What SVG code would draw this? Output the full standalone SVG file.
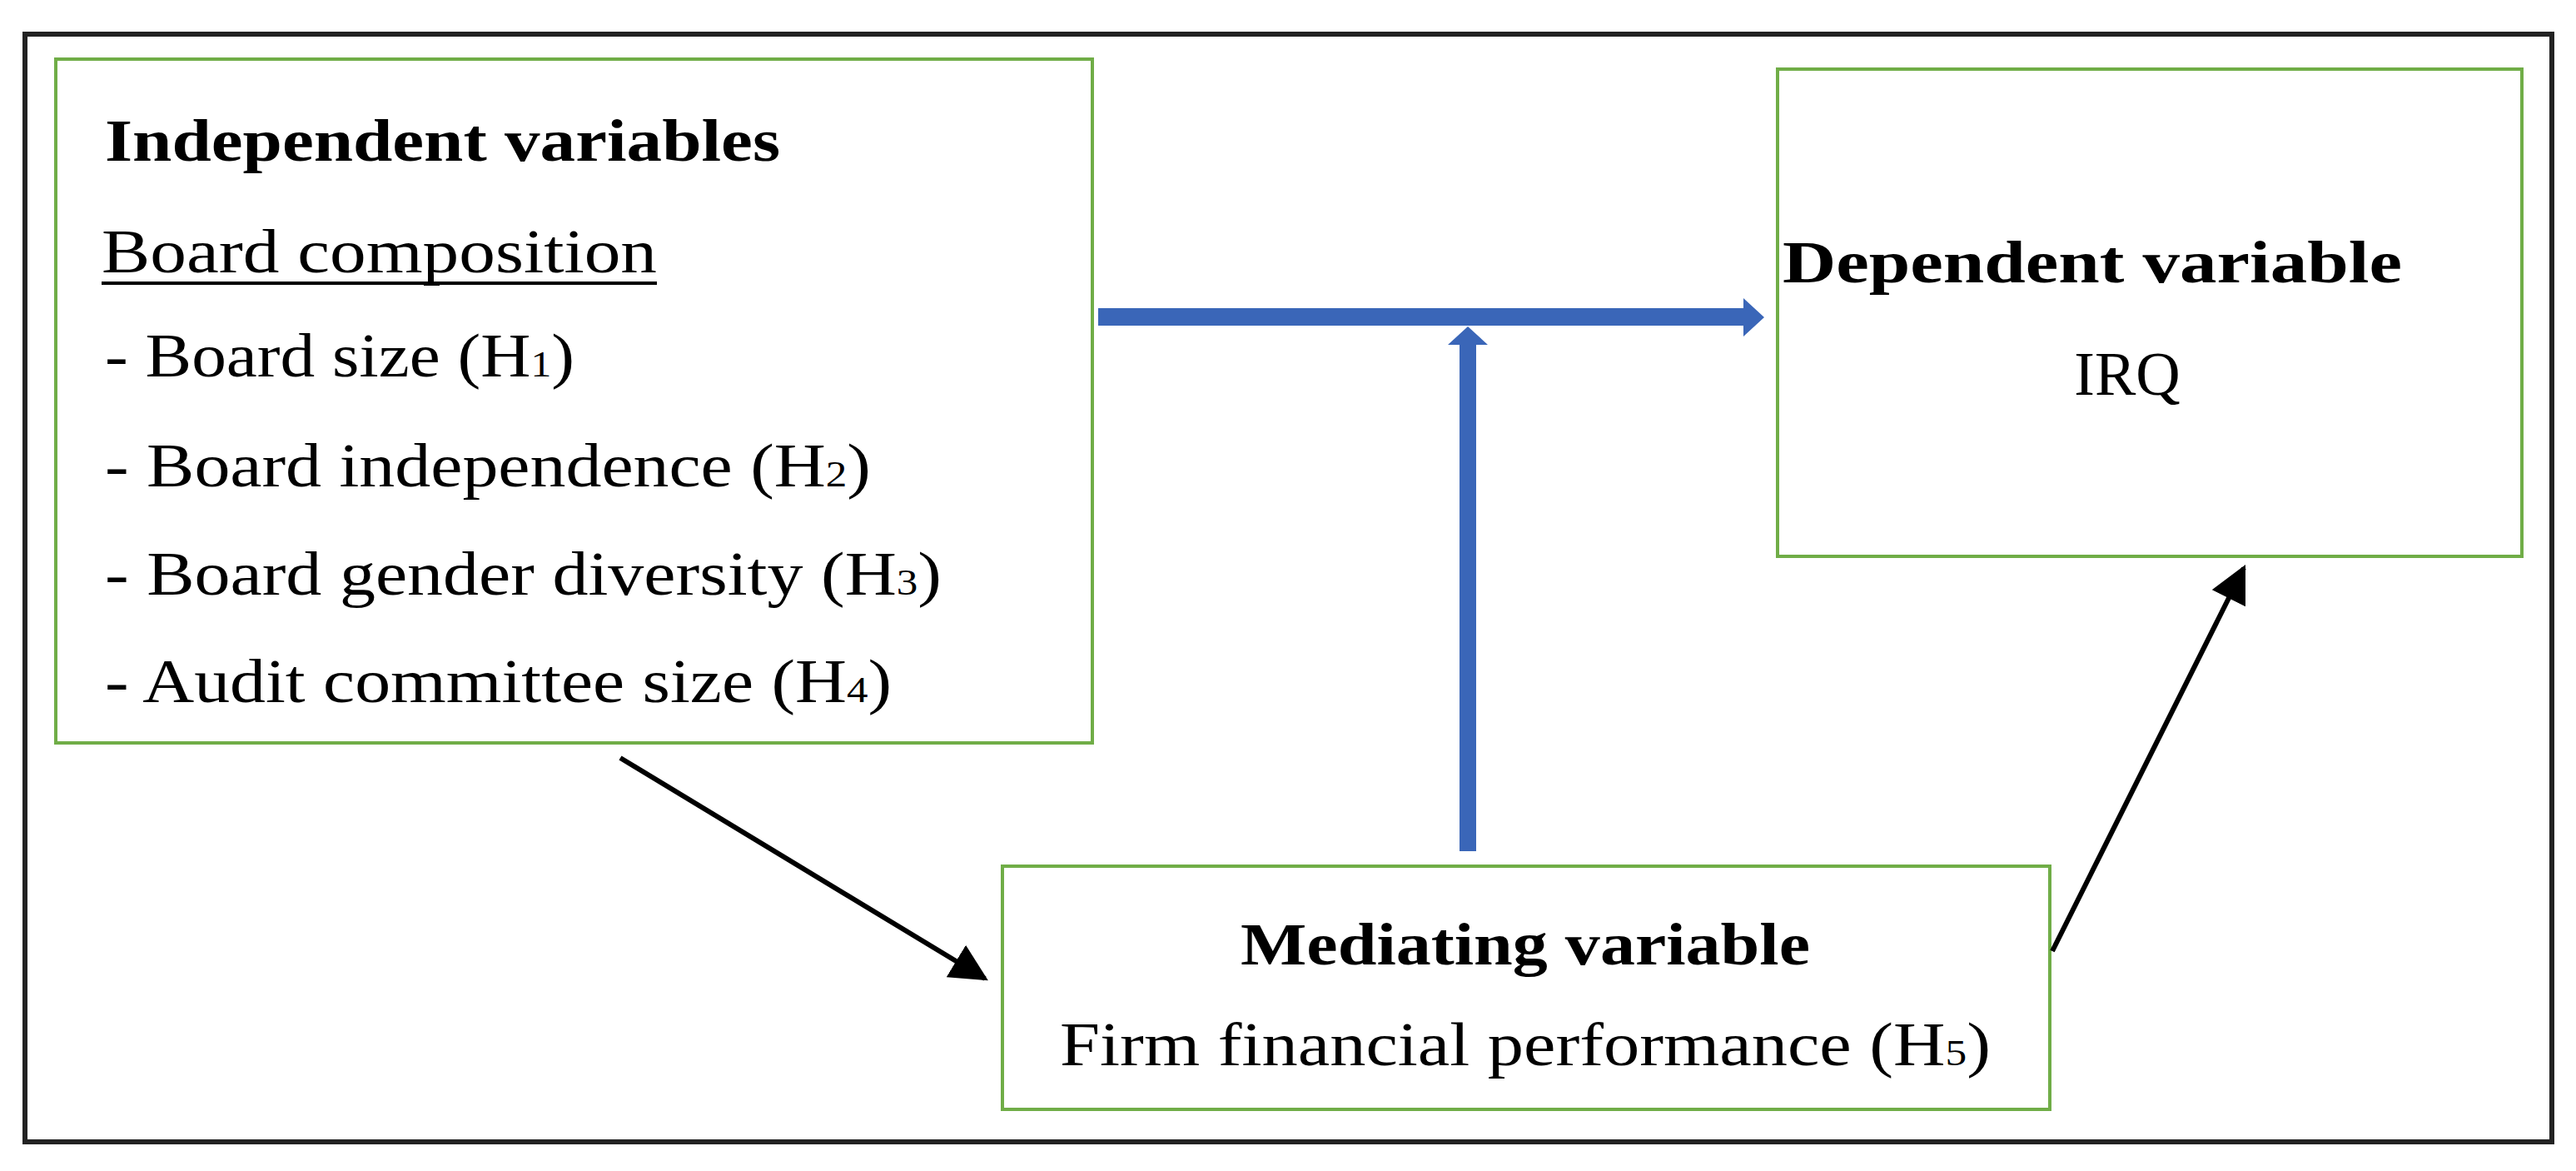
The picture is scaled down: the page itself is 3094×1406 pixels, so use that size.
<svg xmlns="http://www.w3.org/2000/svg" width="3094" height="1406" viewBox="0 0 3094 1406">
<style>
text{font-family:"Liberation Serif","DejaVu Serif",serif;fill:#000;font-size:74px}
.b{font-weight:bold;font-size:72px}
.box{fill:#fff;stroke:#70ad47;stroke-width:4}
.sub{font-size:44px}
</style>
<defs>
<marker id="ah" viewBox="0 0 10 10" refX="9" refY="5" markerWidth="7.5" markerHeight="7.5" orient="auto" markerUnits="strokeWidth"><path d="M0,0L10,5L0,10z" fill="#000"/></marker>
</defs>
<rect width="3094" height="1406" fill="#fff"/>
<rect x="30" y="41" width="3035" height="1330" fill="none" stroke="#222" stroke-width="6"/>
<g id="independent">
<rect class="box" x="67" y="71" width="1245" height="821"/>
<text class="b" x="126" y="193" textLength="811" lengthAdjust="spacingAndGlyphs">Independent variables</text>
<text x="122" y="327" textLength="667" lengthAdjust="spacingAndGlyphs">Board composition</text>
<line x1="122" y1="340" x2="789" y2="340" stroke="#000" stroke-width="4"/>
<text x="126" y="452" textLength="564" lengthAdjust="spacingAndGlyphs">- Board size (H<tspan class="sub">1</tspan>)</text>
<text x="126" y="584" textLength="920" lengthAdjust="spacingAndGlyphs">- Board independence (H<tspan class="sub">2</tspan>)</text>
<text x="126" y="714" textLength="1005" lengthAdjust="spacingAndGlyphs">- Board gender diversity (H<tspan class="sub">3</tspan>)</text>
<text x="126" y="843" textLength="945" lengthAdjust="spacingAndGlyphs">- Audit committee size (H<tspan class="sub">4</tspan>)</text>
</g>
<g id="dependent">
<rect class="box" x="2135" y="83" width="894" height="585"/>
<text class="b" x="2141" y="339" textLength="744" lengthAdjust="spacingAndGlyphs">Dependent variable</text>
<text x="2555" y="474" text-anchor="middle">IRQ</text>
</g>
<g id="mediating">
<rect class="box" x="1204" y="1040" width="1258" height="292"/>
<text class="b" x="1490" y="1158" textLength="684" lengthAdjust="spacingAndGlyphs">Mediating variable</text>
<text x="1273" y="1279" textLength="1118" lengthAdjust="spacingAndGlyphs">Firm financial performance (H<tspan class="sub">5</tspan>)</text>
</g>
<g id="connectors">
<path d="M1319,370H2094V358L2119,381L2094,404V391H1319Z" fill="#3a66b8"/>
<path d="M1753,1022V414H1739L1763,392L1787,414H1773V1022Z" fill="#3a66b8"/>
<line x1="745" y1="910" x2="1183" y2="1175" stroke="#000" stroke-width="6" marker-end="url(#ah)"/>
<line x1="2465" y1="1142" x2="2695" y2="682" stroke="#000" stroke-width="6" marker-end="url(#ah)"/>
</g>
</svg>
